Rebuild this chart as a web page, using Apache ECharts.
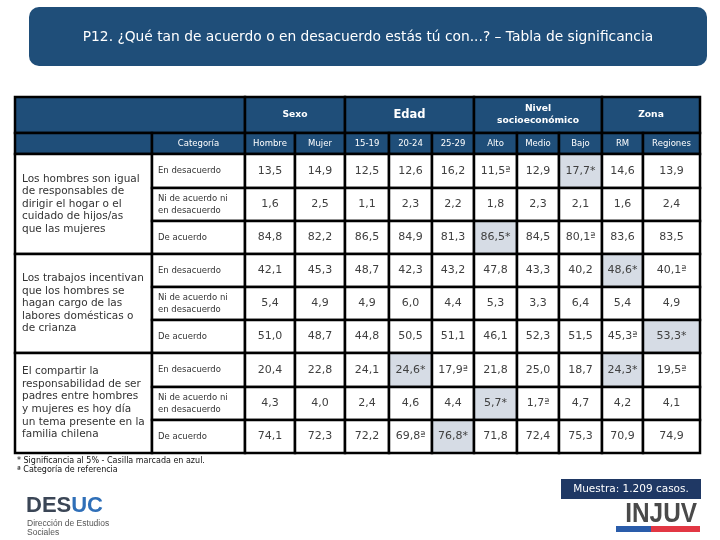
<!DOCTYPE html>
<html><head><meta charset="utf-8">
<script src="https://cdn.jsdelivr.net/npm/echarts@6/dist/echarts.min.js"></script>
<style>html,body{margin:0;padding:0;background:#fff}#c{width:720px;height:540px}</style>
</head><body><div id="c"></div>
<script>
// ---------- DATA ----------
const titleText = 'P12. ¿Qué tan de acuerdo o en desacuerdo estás tú con...? – Tabla de significancia';
const groupLabels = ['Sexo', 'Edad', 'Nivel\nsocioeconómico', 'Zona'];
const groupSpans = [2, 3, 3, 2];
const columnLabels = ['Hombre', 'Mujer', '15-19', '20-24', '25-29', 'Alto', 'Medio', 'Bajo', 'RM', 'Regiones'];
const categoryHeader = 'Categoría';
const statements = [
  'Los hombres son igual\nde responsables de\ndirigir el hogar o el\ncuidado de hijos/as\nque las mujeres',
  'Los trabajos incentivan\nque los hombres se\nhagan cargo de las\nlabores domésticas o\nde crianza',
  'El compartir la\nresponsabilidad de ser\npadres entre hombres\ny mujeres es hoy día\nun tema presente en la\nfamilia chilena'
];
const answerLabels = ['En desacuerdo', 'Ni de acuerdo ni\nen desacuerdo', 'De acuerdo'];

const valuesStatement1 = [
  [13.5, 14.9, 12.5, 12.6, 16.2, 11.5, 12.9, 17.7, 14.6, 13.9],
  [1.6, 2.5, 1.1, 2.3, 2.2, 1.8, 2.3, 2.1, 1.6, 2.4],
  [84.8, 82.2, 86.5, 84.9, 81.3, 86.5, 84.5, 80.1, 83.6, 83.5]
];
const flagsStatement1 = [
  ['', '', '', '', '', 'a', '', '*', '', ''],
  ['', '', '', '', '', '', '', '', '', ''],
  ['', '', '', '', '', '*', '', 'a', '', '']
];
const valuesStatement2 = [
  [42.1, 45.3, 48.7, 42.3, 43.2, 47.8, 43.3, 40.2, 48.6, 40.1],
  [5.4, 4.9, 4.9, 6.0, 4.4, 5.3, 3.3, 6.4, 5.4, 4.9],
  [51.0, 48.7, 44.8, 50.5, 51.1, 46.1, 52.3, 51.5, 45.3, 53.3]
];
const flagsStatement2 = [
  ['', '', '', '', '', '', '', '', '*', 'a'],
  ['', '', '', '', '', '', '', '', '', ''],
  ['', '', '', '', '', '', '', '', 'a', '*']
];
const valuesStatement3 = [
  [20.4, 22.8, 24.1, 24.6, 17.9, 21.8, 25.0, 18.7, 24.3, 19.5],
  [4.3, 4.0, 2.4, 4.6, 4.4, 5.7, 1.7, 4.7, 4.2, 4.1],
  [74.1, 72.3, 72.2, 69.8, 76.8, 71.8, 72.4, 75.3, 70.9, 74.9]
];
const flagsStatement3 = [
  ['', '', '', '*', 'a', '', '', '', '*', 'a'],
  ['', '', '', '', '', '*', 'a', '', '', ''],
  ['', '', '', 'a', '*', '', '', '', '', '']
];
const footnotes = ['* Significancia al 5% - Casilla marcada en azul.', 'ª Categoría de referencia'];
const sampleNote = 'Muestra: 1.209 casos.';

// ---------- LAYOUT / STYLE ----------
const colWidths = [137, 93, 50, 50, 44, 43, 42, 43, 42, 43, 41, 57];
const rowHeights = [36, 21, 34, 33, 33, 33, 33, 33, 34, 33, 33];
const HEAD = '#1f4e79', SIG = '#d6dce5', FONT = '"DejaVu Sans", Verdana, sans-serif';

const colEdges = [0]; colWidths.forEach(w => colEdges.push(colEdges[colEdges.length - 1] + w));
const rowEdges = [0]; rowHeights.forEach(h => rowEdges.push(rowEdges[rowEdges.length - 1] + h));

const allValues = [valuesStatement1, valuesStatement2, valuesStatement3];
const allFlags = [flagsStatement1, flagsStatement2, flagsStatement3];

const cells = [];
function addCell(c0, c1, r0, r1, text, kind, fill) {
  cells.push({ value: [colEdges[c0], colEdges[c1], rowEdges[r0], rowEdges[r1]], text: text, kind: kind, fill: fill });
}
// header row 1
addCell(0, 2, 0, 1, '', 'hdrGroup', HEAD);
let c = 2;
groupLabels.forEach((g, i) => {
  addCell(c, c + groupSpans[i], 0, 1, g, g === 'Edad' ? 'hdrBig' : 'hdrGroup', HEAD);
  c += groupSpans[i];
});
// header row 2
addCell(0, 1, 1, 2, '', 'hdrCol', HEAD);
addCell(1, 2, 1, 2, categoryHeader, 'hdrCol', HEAD);
columnLabels.forEach((l, j) => addCell(2 + j, 3 + j, 1, 2, l, 'hdrCol', HEAD));
// body
statements.forEach((s, si) => {
  const r = 2 + si * 3;
  addCell(0, 1, r, r + 3, s, 'stmt', '#fff');
  answerLabels.forEach((a, k) => {
    addCell(1, 2, r + k, r + k + 1, a, 'cat', '#fff');
    allValues[si][k].forEach((v, j) => {
      const f = allFlags[si][k][j];
      const txt = v.toFixed(1).replace('.', ',') + (f === '*' ? '*' : f === 'a' ? 'ª' : '');
      addCell(2 + j, 3 + j, r + k, r + k + 1, txt, 'num', f === '*' ? SIG : '#fff');
    });
  });
});

const textStyles = {
  hdrGroup: { fill: '#fff', fontSize: 9.2, fontWeight: 'bold', align: 'center', lineHeight: 12 },
  hdrBig: { fill: '#fff', fontSize: 11.5, fontWeight: 'bold', align: 'center', lineHeight: 14 },
  hdrCol: { fill: '#fff', fontSize: 8.5, fontWeight: 'normal', align: 'center', lineHeight: 11 },
  stmt: { fill: '#333', fontSize: 10.5, fontWeight: 'normal', align: 'left', lineHeight: 12.6 },
  cat: { fill: '#333', fontSize: 8.5, fontWeight: 'normal', align: 'left', lineHeight: 12 },
  num: { fill: '#404040', fontSize: 11, fontWeight: 'normal', align: 'center', lineHeight: 13 }
};

function renderItem(params, api) {
  const cell = cells[params.dataIndex];
  const p0 = api.coord([api.value(0), api.value(2)]);
  const p1 = api.coord([api.value(1), api.value(3)]);
  const x = p0[0], y = p0[1], w = p1[0] - p0[0], h = p1[1] - p0[1];
  const ts = textStyles[cell.kind];
  let tx = x + w / 2;
  if (ts.align === 'left') tx = x + (cell.kind === 'stmt' ? 7 : 6);
  return {
    type: 'group',
    children: [
      { type: 'rect', shape: { x: x, y: y, width: w, height: h },
        style: { fill: cell.fill, stroke: '#000', lineWidth: 2.5 } },
      { type: 'text', z2: 10,
        style: { text: cell.text, x: tx, y: y + h / 2, align: ts.align, verticalAlign: 'middle',
          fontSize: ts.fontSize, fontWeight: ts.fontWeight, fontFamily: FONT, fill: ts.fill, lineHeight: ts.lineHeight } }
    ]
  };
}

const chart = echarts.init(document.getElementById('c'), null, { renderer: 'canvas' });
chart.setOption({
  animation: false,
  backgroundColor: '#fff',
  grid: { left: 15, top: 97, width: colEdges[colEdges.length - 1], height: rowEdges[rowEdges.length - 1] },
  xAxis: { type: 'value', min: 0, max: colEdges[colEdges.length - 1], show: false },
  yAxis: { type: 'value', min: 0, max: rowEdges[rowEdges.length - 1], inverse: true, show: false },
  series: [{
    type: 'custom', clip: false, renderItem: renderItem,
    encode: { x: [0, 1], y: [2, 3] },
    data: cells.map(d => d.value)
  }],
  graphic: [
    { type: 'rect', left: 29, top: 7, shape: { width: 678, height: 59, r: 10 }, style: { fill: HEAD } },
    { type: 'text', x: 368, y: 37, style: { text: titleText, align: 'center', verticalAlign: 'middle',
        fontSize: 13.8, fontFamily: FONT, fill: '#fff' } },
    { type: 'text', x: 17, y: 460.5, style: { text: footnotes[0], verticalAlign: 'middle', fontSize: 8, fontFamily: FONT, fill: '#111' } },
    { type: 'text', x: 17, y: 469.5, style: { text: footnotes[1], verticalAlign: 'middle', fontSize: 8, fontFamily: FONT, fill: '#111' } },
    { type: 'rect', left: 561, top: 479, shape: { width: 140, height: 20 }, style: { fill: '#1f3864' } },
    { type: 'text', x: 631, y: 489.5, style: { text: sampleNote, align: 'center', verticalAlign: 'middle',
        fontSize: 10.5, fontFamily: FONT, fill: '#fff' } },
    { type: 'text', x: 697, y: 514, scaleX: 0.87, style: { text: 'INJUV', align: 'right', verticalAlign: 'middle',
        fontSize: 28, fontWeight: 'bold', fontFamily: '"Liberation Sans", Arial, sans-serif', fill: '#4a4a4a' } },
    { type: 'rect', left: 616, top: 526, shape: { width: 35, height: 6 }, style: { fill: '#2a5caa' } },
    { type: 'rect', left: 651, top: 526, shape: { width: 49, height: 6 }, style: { fill: '#e23744' } },
    { type: 'text', x: 26, y: 506, style: { text: '{a|DES}{b|UC}', verticalAlign: 'middle',
        rich: { a: { fontSize: 22, fontWeight: 'bold', fontFamily: '"Liberation Sans", Arial, sans-serif', fill: '#3b4656' },
                b: { fontSize: 22, fontWeight: 'bold', fontFamily: '"Liberation Sans", Arial, sans-serif', fill: '#2f6fb8' } } } },
    { type: 'text', x: 27, y: 524, style: { text: 'Dirección de Estudios', verticalAlign: 'middle', fontSize: 8.5,
        fontFamily: '"Liberation Sans", Arial, sans-serif', fill: '#555' } },
    { type: 'text', x: 27, y: 533, style: { text: 'Sociales', verticalAlign: 'middle', fontSize: 8.5,
        fontFamily: '"Liberation Sans", Arial, sans-serif', fill: '#555' } }
  ]
});
</script>
</body></html>
